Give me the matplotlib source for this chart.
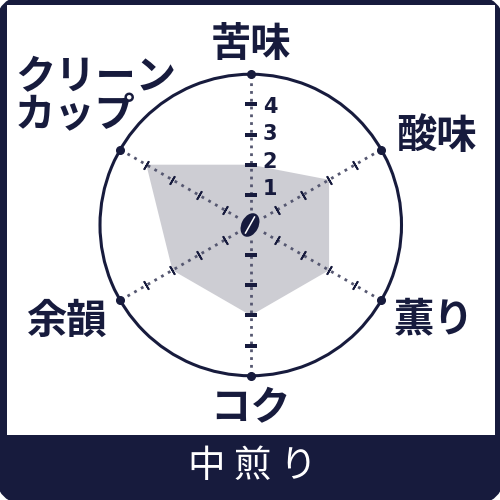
import numpy as np
import matplotlib
matplotlib.use("Agg")
import matplotlib.pyplot as plt
from matplotlib.patches import FancyBboxPatch, Rectangle, Ellipse

# datos de la grafica
categorias = ["苦味", "酸味", "薫り", "コク", "余韻", "クリーン\nカップ"]
valores = [2, 3, 3, 3, 3, 4]
niveles = [1, 2, 3, 4]
titulo = "中 煎 り"
max_nivel = 5

azul = "#171b3d"
gris = "#cdcdd3"
jp = ["Noto Sans CJK JP", "DejaVu Sans"]

fig = plt.figure(figsize=(5, 5), dpi=100)

# marco en pixeles
fondo = fig.add_axes([0, 0, 1, 1])
fondo.set_xlim(0, 500)
fondo.set_ylim(500, 0)
fondo.axis("off")
fondo.add_patch(FancyBboxPatch((12, 12), 476, 476, boxstyle="round,pad=0,rounding_size=14",
                               mutation_aspect=1, fc=azul, ec=azul, lw=24, clip_on=False))
fondo.add_patch(Rectangle((6.5, 5), 488.5, 430, fc="white", ec="none"))

# radar
ax = fig.add_axes([0.2, 0.2485, 0.603, 0.603], projection="polar", facecolor="none")
ax.set_theta_zero_location("N")
ax.set_theta_direction(-1)
ax.set_ylim(0, max_nivel)
ax.set_xticks([])
ax.set_yticks([])
ax.spines["polar"].set_color(azul)
ax.spines["polar"].set_linewidth(2.2)

angulos = np.deg2rad(np.arange(len(categorias)) * 60)
ax.fill(angulos, valores, color=gris, lw=0, zorder=1)

for a in angulos:
    ax.plot([a, a], [0.5, max_nivel], color="#555770", lw=2, ls=(0, (1, 1.8)), zorder=2)
    marca = (2, 2, -np.rad2deg(a) + 90)
    vertical = a == 0 or abs(a - np.pi) < 0.01
    ax.plot([a] * 4, niveles, ls="none", marker=marca, ms=8.5 if vertical else 7,
            mew=1.6 if vertical else 1.3, color=azul, zorder=3)
    ax.plot([a], [max_nivel], "o", ms=5.5, color=azul, clip_on=False, zorder=4)

# grano de cafe en el centro
fondo_top = fig.add_axes([0, 0, 1, 1], facecolor="none")
fondo_top.set_xlim(0, 500)
fondo_top.set_ylim(500, 0)
fondo_top.axis("off")
fondo_top.add_patch(Ellipse((250, 225), 17, 25, angle=27, fc=azul, ec="none"))
fondo_top.plot([245.5, 254.5], [233, 217], color="white", lw=1.1)

# etiquetas
pos_cat = [(251, 44), (436, 136), (434, 320), (250, 409), (66, 321), (15, 97)]
for c, (x, y) in zip(categorias, pos_cat):
    if "\n" in c:
        fondo_top.text(x, y, c, family=jp, fontsize=29, weight="bold", color=azul,
                       ha="left", va="center", linespacing=0.9)
    else:
        fondo_top.text(x, y, c, family=jp, fontsize=29, weight="bold", color=azul,
                       ha="center", va="center")

for n in niveles:
    fondo_top.text(270, 107 + 27.3 * (4 - n), str(n), fontsize=15, weight="bold", color=azul,
                   ha="center", va="center")

fondo_top.text(253, 466, titulo, family=jp, fontsize=27, color="white",
               ha="center", va="center")

fig.savefig("out.png", dpi=100)
